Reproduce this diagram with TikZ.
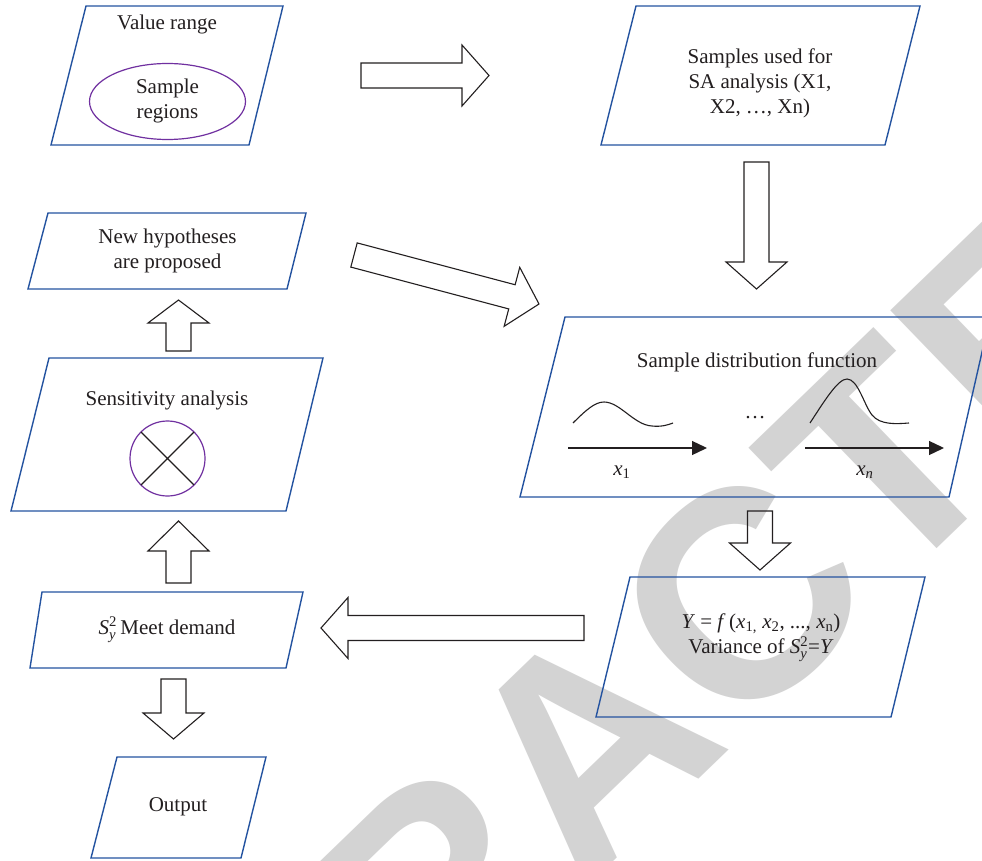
\documentclass[tikz,border=0pt]{standalone}
\usepackage{fontspec}
\usepackage{amsmath}
\setmainfont{Liberation Serif}
\newfontfamily\wmfont{Liberation Sans}
\usetikzlibrary{calc,arrows.meta}

\definecolor{boxblue}{RGB}{36,83,160}
\definecolor{ink}{RGB}{35,31,32}
\definecolor{rimpurple}{RGB}{112,48,160}
\definecolor{wmgray}{RGB}{211,211,211}

% hollow block arrow from coordinate #1 (tail centre) to #2 (tip), head length #3
\newcommand\fatarrow[3]{%
  \path (#1) coordinate (fa-s) (#2) coordinate (fa-t);
  \path ($(fa-t)!#3pt!(fa-s)$) coordinate (fa-b);
  \draw[blockarrow]
    ($(fa-s)!12.5pt!90:(fa-t)$) -- ($(fa-b)!12.5pt!-90:(fa-s)$)
    -- ($(fa-b)!30.5pt!-90:(fa-s)$) -- (fa-t)
    -- ($(fa-b)!30.5pt!90:(fa-s)$) -- ($(fa-b)!12.5pt!90:(fa-s)$)
    -- ($(fa-s)!12.5pt!-90:(fa-t)$) -- cycle;
}
\newcommand\Ssq{\textit{S}$^{\text{2}}_{\text{\itshape y}}$}

\tikzset{
  databox/.style={draw=boxblue, line width=1.4pt, line join=miter},
  txt/.style={text=ink, font=\fontsize{21}{25}\selectfont, align=center, inner sep=0pt},
  blockarrow/.style={draw=ink, line width=1.1pt, line join=miter},
  ring/.style={draw=rimpurple, line width=1.2pt},
  wave/.style={draw=ink, line width=1.1pt},
  axisline/.style={draw=ink, line width=1.3pt, -{Triangle[length=15pt,width=14pt]}},
  stamp/.style={text=wmgray, font=\wmfont\bfseries\fontsize{295}{295}\selectfont, inner sep=0pt},
}

\begin{document}
\begin{tikzpicture}[x=1pt,y=-1pt]
\useasboundingbox (0,0) rectangle (982,861);
\fill[white] (0,0) rectangle (982,861);

% retraction stamp behind the chart
\begin{scope}
  \clip (0,0) rectangle (982,861);
  \node[stamp, rotate=44, anchor=base] (stampword) at (658,818) {RETRACTED};
\end{scope}

% ---- value range with sample regions
\draw[databox] (86,6) -- (283,6) -- (249,145) -- (51,145) -- cycle;
\node[txt] (valrange) at (167,24) {Value range};
\draw[ring] (167.5,101.5) ellipse [x radius=78, y radius=38];
\node[txt] (regions) at (167.5,101) {Sample\\regions};

% ---- samples for SA
\draw[databox] (636,6) -- (920,6) -- (885,145) -- (601,145) -- cycle;
\node[txt] (samples) at (760,83) {Samples used for\\SA analysis (X1,\\X2, …, Xn)};

% ---- new hypotheses
\draw[databox] (48,213) -- (306,213) -- (287,289) -- (28,289) -- cycle;
\node[txt] (hypo) at (167.5,251) {New hypotheses\\are proposed};

% ---- sensitivity analysis
\draw[databox] (49,358) -- (323,358) -- (286,511) -- (11,511) -- cycle;
\node[txt] (sens) at (167,400) {Sensitivity analysis};
\draw[ring] (167.5,458.5) circle [radius=37.5];
\draw[ink, line width=1.1pt] ($(167.5,458.5)+(-26.5,-26.5)$) -- ($(167.5,458.5)+(26.5,26.5)$)
                             ($(167.5,458.5)+(26.5,-26.5)$) -- ($(167.5,458.5)+(-26.5,26.5)$);

% ---- demand check
\draw[databox] (42,592) -- (303,592) -- (286,668) -- (30,668) -- cycle;
\node[txt] (demand) at (167,630) {\Ssq\,Meet demand};

% ---- output
\draw[databox] (117,757) -- (266,757) -- (241,858) -- (91,858) -- cycle;
\node[txt] (output) at (178,807) {Output};

% ---- sample distribution function
\draw[databox] (565,317) -- (990,317) -- (949,497) -- (520,497) -- cycle;
\node[txt] (distfun) at (757,362) {Sample distribution function};
\draw[wave] (573,423) .. controls (586,410) and (595,402) .. (604,402)
            .. controls (620,402) and (634,425) .. (652,426)
            .. controls (661,427) and (668,425) .. (673,423);
\draw[wave] (810,423) .. controls (825,400) and (838,379) .. (847,379)
            .. controls (858,379) and (864,405) .. (872,415)
            .. controls (880,425) and (896,424) .. (909,423);
\coordinate (ax1s) at (568,448); \coordinate (ax1e) at (707,448);
\coordinate (axns) at (805,448); \coordinate (axne) at (944,448);
\draw[axisline] (ax1s) -- (ax1e);
\draw[axisline] (axns) -- (axne);
\node[txt] (dots) at (755,418) {…};
\node[txt] (xone) at (622,472) {\textit{x}\textsubscript{1}};
\node[txt] (xenn) at (865,472) {\textit{x}\textsubscript{\textit{n}}};

% ---- variance
\draw[databox] (630,577) -- (925,577) -- (891,717) -- (596,717) -- cycle;
\node[txt] (variance) at (761,638) {\textit{Y} = \textit{f}\,(\textit{x}\textsubscript{1,} \textit{x}\textsubscript{2}, ..., \textit{x}\textsubscript{n})\\Variance of \Ssq=\textit{Y}};

% ---- block arrows
\coordinate (a1s) at (361,75.5);  \coordinate (a1t) at (489,75.5);
\coordinate (a2s) at (756.5,162); \coordinate (a2t) at (756.5,289);
\coordinate (a3s) at (354,255);   \coordinate (a3t) at (539,304);
\coordinate (a4s) at (760,511);   \coordinate (a4t) at (760,570);
\coordinate (a5s) at (584,628);   \coordinate (a5t) at (321,628);
\coordinate (a6s) at (178.5,583); \coordinate (a6t) at (178.5,521);
\coordinate (a7s) at (178.5,351); \coordinate (a7t) at (178.5,300);
\coordinate (a8s) at (173.5,679); \coordinate (a8t) at (173.5,739);
\fatarrow{a1s}{a1t}{27}
\fatarrow{a2s}{a2t}{27}
\fatarrow{a3s}{a3t}{28}
\fatarrow{a4s}{a4t}{27}
\fatarrow{a5s}{a5t}{27}
\fatarrow{a6s}{a6t}{30}
\fatarrow{a7s}{a7t}{23}
\fatarrow{a8s}{a8t}{26}
\end{tikzpicture}
\end{document}
